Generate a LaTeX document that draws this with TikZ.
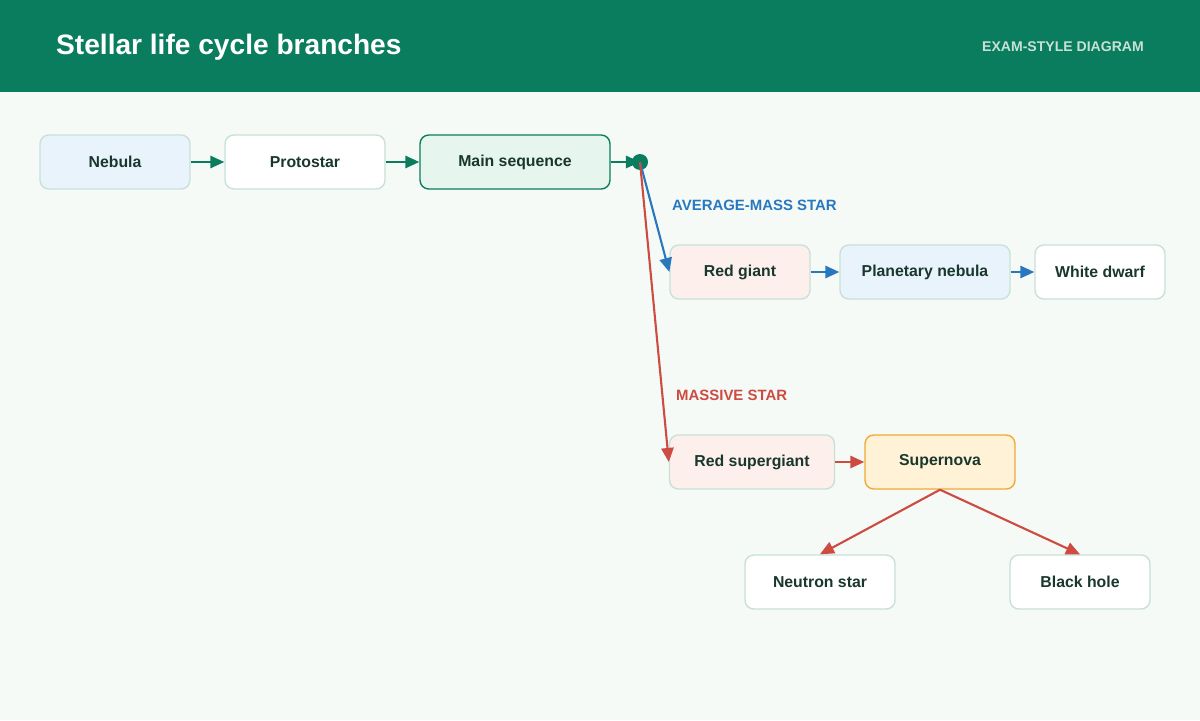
\documentclass[tikz,border=0pt]{standalone}
\usepackage{fontspec}
\setmainfont{Liberation Sans}
\usetikzlibrary{arrows.meta, positioning}
\definecolor{forest}{RGB}{10, 125, 95}
\definecolor{paper}{RGB}{245, 250, 247}
\definecolor{mint}{RGB}{200, 225, 215}
\definecolor{inkgreen}{RGB}{25, 55, 45}
\definecolor{skyfill}{RGB}{232, 243, 252}
\definecolor{rosefill}{RGB}{253, 239, 236}
\definecolor{mainfill}{RGB}{230, 246, 238}
\definecolor{amberfill}{RGB}{255, 242, 215}
\definecolor{amber}{RGB}{240, 170, 50}
\definecolor{avgblue}{RGB}{40, 120, 190}
\definecolor{massred}{RGB}{205, 75, 65}

\begin{document}
\begin{tikzpicture}[
    x=0.02cm, y=-0.02cm,
    stage/.style={
        rectangle,
        rounded corners=5pt,
        draw=mint,
        thick,
        fill=#1,
        text=inkgreen,
        font=\bfseries\fontsize{9}{11}\selectfont,
        minimum height=1.08cm,
        align=center
    },
    arrow/.style={
        -{Triangle[length=8pt,width=7pt]},
        very thick, #1,
    },
    branch/.style={
        font=\bfseries\fontsize{8.5}{10}\selectfont,
        text=#1, anchor=west
    }
]

% Canvas and header
\fill[paper] (0,0) rectangle (1200,720);
\fill[forest] (0,0) rectangle (1200,92);
\node[anchor=west, text=white, font=\bfseries\fontsize{16}{19}\selectfont] (title) at (50,47) {Stellar life cycle branches};
\node[anchor=east, text=mint, font=\bfseries\fontsize{8}{10}\selectfont] (tag) at (1150,47) {EXAM-STYLE DIAGRAM};

% Main row
\node[stage=skyfill, minimum width=3cm] (nebula) at (115,162) {Nebula};
\node[stage=white, minimum width=3.2cm] (protostar) at (305,162) {Protostar};
\node[stage=mainfill, draw=forest, minimum width=3.8cm] (mainseq) at (515,162) {Main sequence};
\fill[forest] (640,162) circle (8) coordinate (split);

% Average-mass branch
\node[branch=avgblue] (avglabel) at (666,205) {AVERAGE-MASS STAR};
\node[stage=rosefill, minimum width=2.8cm] (redgiant) at (740,272) {Red giant};
\node[stage=skyfill, minimum width=3.4cm] (planetary) at (925,272) {Planetary nebula};
\node[stage=white, minimum width=2.6cm] (whitedwarf) at (1100,272) {White dwarf};

% Massive branch
\node[branch=massred] (masslabel) at (670,395) {MASSIVE STAR};
\node[stage=rosefill, minimum width=3.3cm] (supergiant) at (752,462) {Red supergiant};
\node[stage=amberfill, draw=amber, minimum width=3cm] (supernova) at (940,462) {Supernova};
\node[stage=white, minimum width=3cm] (neutron) at (820,582) {Neutron star};
\node[stage=white, minimum width=2.8cm] (blackhole) at (1080,582) {Black hole};

% Draw connecting arrows
\draw[arrow=forest] (nebula) -- (protostar);
\draw[arrow=forest] (protostar) -- (mainseq);
\draw[arrow=forest] (mainseq) -- (split);

\draw[arrow=avgblue] (split) -- (redgiant.west);
\draw[arrow=avgblue] (redgiant) -- (planetary);
\draw[arrow=avgblue] (planetary) -- (whitedwarf);

\draw[arrow=massred] (split) -- (supergiant.west);
\draw[arrow=massred] (supergiant) -- (supernova);
\draw[arrow=massred] (supernova.south) -- (neutron.north);
\draw[arrow=massred] (supernova.south) -- (blackhole.north);

\end{tikzpicture}
\end{document}
